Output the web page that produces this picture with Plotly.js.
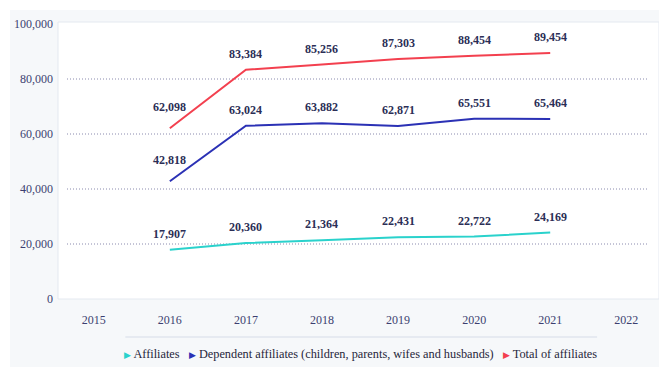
<!DOCTYPE html>
<html>
<head>
<meta charset="utf-8">
<script src="https://cdn.plot.ly/plotly-3.0.1.min.js"></script>
<style>
html,body{margin:0;padding:0;background:#ffffff;}
#chart{position:absolute;left:10px;top:10px;width:649px;height:357px;}
</style>
</head>
<body>
<div id="chart"></div>
<script>
var years = [2016, 2017, 2018, 2019, 2020, 2021];
var xTicks = [2015, 2016, 2017, 2018, 2019, 2020, 2021, 2022];
var affiliates = [17907, 20360, 21364, 22431, 22722, 24169];
var dependents = [42818, 63024, 63882, 62871, 65551, 65464];
var total = [62098, 83384, 85256, 87303, 88454, 89454];
var yTicks = [0, 20000, 40000, 60000, 80000, 100000];
var gridValues = [20000, 40000, 60000, 80000];
var seriesNames = ['Affiliates', 'Dependent affiliates (children, parents, wifes and husbands)', 'Total of affiliates'];

var colors = ['#2ad2cc', '#2b31b5', '#f3404f'];
var series = [affiliates, dependents, total];
var FONT = 'Liberation Serif, Times New Roman, serif';
var labelColor = '#2b2e56';
var tickColor = '#3c3f70';

var traces = series.map(function(vals, i){
  return {
    x: years, y: vals, type: 'scatter', mode: 'lines',
    name: seriesNames[i],
    line: {color: colors[i], width: 2},
    showlegend: false, hoverinfo: 'x+y'
  };
});

var annotations = [];
series.forEach(function(vals, i){
  vals.forEach(function(v, j){
    // labels over a steep rising segment sit a little higher
    var shift = (j === 0 && i > 0) ? 21 : 16;
    annotations.push({
      x: years[j], y: v, xref: 'x', yref: 'y',
      text: v.toLocaleString('en-US'),
      showarrow: false, yanchor: 'middle', yshift: shift,
      font: {family: FONT, size: 12, color: labelColor, weight: 'bold'}
    });
  });
});

// legend as text
var legendText = seriesNames.map(function(n, i){
  return '<span style="color:' + colors[i] + ';font-size:9px">▶</span> ' + n;
}).join('   ');
annotations.push({
  x: 0.503, y: -0.2, xref: 'paper', yref: 'paper',
  xanchor: 'center', yanchor: 'middle', showarrow: false,
  text: legendText,
  font: {family: FONT, size: 12.3, color: '#26263a'}
});

var shapes = gridValues.map(function(g){
  return {type: 'line', xref: 'paper', yref: 'y', x0: 0.015, x1: 0.983, y0: g, y1: g,
          line: {color: '#8a8aae', width: 1, dash: '1px,2px'}, layer: 'below'};
});
shapes.push({type: 'rect', xref: 'paper', yref: 'paper', x0: 0, x1: 1, y0: 0, y1: 1,
             line: {color: '#e4e9f0', width: 1}, layer: 'below'});
shapes.push({type: 'line', xref: 'paper', yref: 'paper', x0: 0.112, x1: 0.897, y0: -0.137, y1: -0.137,
             line: {color: '#e1e6ee', width: 1.5}});

var layout = {
  width: 649, height: 357,
  margin: {l: 48, r: 0, t: 12, b: 68},
  paper_bgcolor: '#f6f8fa',
  plot_bgcolor: '#ffffff',
  showlegend: false,
  xaxis: {
    type: 'linear', range: [2014.53, 2022.43],
    tickvals: xTicks, ticktext: xTicks.map(String),
    showgrid: false, zeroline: false, showline: false, ticks: '',
    ticklabelstandoff: 12,
    tickfont: {family: FONT, size: 12, color: tickColor}
  },
  yaxis: {
    range: [0, 100730],
    tickvals: yTicks, ticktext: yTicks.map(function(v){return v.toLocaleString('en-US');}),
    showgrid: false, zeroline: false, showline: false, ticks: '',
    ticklabelstandoff: 4,
    tickfont: {family: FONT, size: 12, color: tickColor}
  },
  annotations: annotations,
  shapes: shapes
};

Plotly.newPlot('chart', traces, layout, {displayModeBar: false, staticPlot: true});
</script>
</body>
</html>
